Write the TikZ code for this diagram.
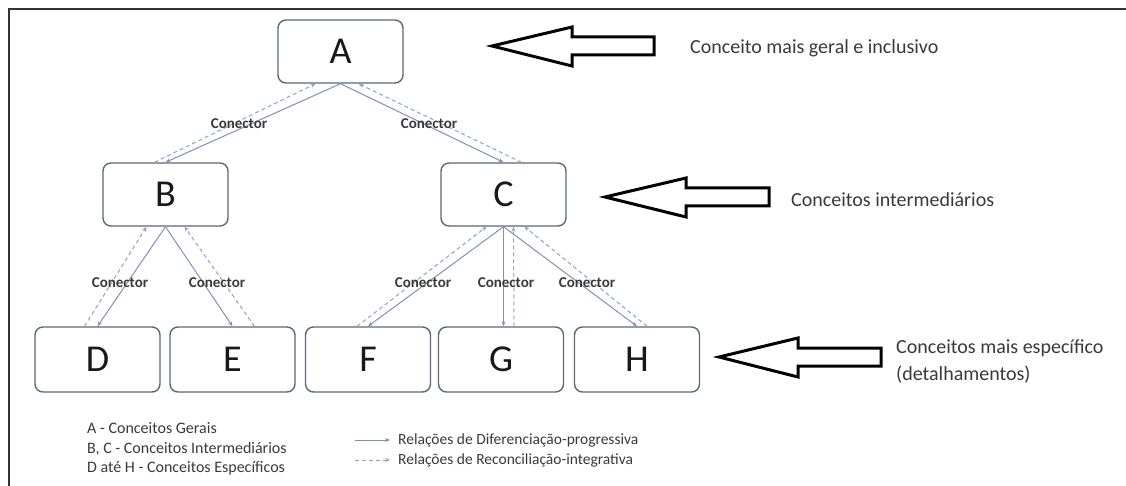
\documentclass[tikz,border=0pt]{standalone}
\usepackage{fontspec}
\setmainfont{Carlito}
\usetikzlibrary{arrows.meta,calc}
\definecolor{conn}{HTML}{7E93B3}
\definecolor{boxc}{HTML}{5E6874}
\definecolor{txt}{HTML}{3A3A3A}
\definecolor{framec}{HTML}{333333}
\begin{document}
\begin{tikzpicture}[x=1pt,y=-1pt,
  concept/.style={draw=boxc,line width=1.4pt,rounded corners=8pt,fill=white,minimum width=125pt,minimum height=64pt,inner sep=0pt,font=\fontsize{38}{40}\selectfont,text=black!90},
  diff/.style={draw=conn,line width=1pt,-{Stealth[length=5pt,width=4pt]}},
  recon/.style={draw=conn!85,line width=1pt,dash pattern=on 4pt off 3pt,-{Stealth[length=5pt,width=4pt]}},
  lab/.style={font=\bfseries\fontsize{15}{15}\selectfont,text=txt,inner sep=0pt},
  bigarrow/.style={draw=black,line width=3pt,fill=white,line join=miter},
  note/.style={font=\fontsize{20}{27}\selectfont,text=txt,anchor=west,align=left,inner sep=0pt},
  legend/.style={font=\fontsize{16}{19.5}\selectfont,text=txt,anchor=west,align=left,inner sep=0pt},
  legend2/.style={font=\fontsize{15.5}{19}\selectfont,text=txt,anchor=west,inner sep=0pt}
]
\useasboundingbox[fill=white] (0,0) rectangle (1126,486);
% frame
\draw[line width=2pt,framec] (9,486) -- (9,9) -- (1126,9);

% concept boxes
\node[concept,minimum height=63pt] (A) at (340.5,51.5) {A};
\node[concept,minimum height=63pt] (B) at (165.5,194.5) {B};
\node[concept,minimum height=63pt] (C) at (503.5,194.5) {C};
\node[concept,minimum height=65pt] (D) at (97.5,359.5) {D};
\node[concept,minimum height=65pt] (E) at (232.5,359.5) {E};
\node[concept,minimum height=65pt] (F) at (368,359.5) {F};
\node[concept,minimum height=65pt] (G) at (501,359.5) {G};
\node[concept,minimum height=65pt] (H) at (637,359.5) {H};

% connectors A
\draw[diff] (A.south) -- (B.north);
\draw[diff] (A.south) -- (C.north);
\draw[recon] ($(B.north)+(-11,0)$) -- ($(A.south)+(-25,0)$);
\draw[recon] ($(C.north)+(18,0)$) -- ($(A.south)+(18,0)$);
% connectors B
\draw[diff] (B.south) -- (D.north);
\draw[recon] ($(D.north)+(-13,0)$) -- ($(B.south)+(-19,0)$);
\draw[diff] (B.south) -- (E.north);
\draw[recon] ($(E.north)+(22,0)$) -- ($(B.south)+(19,0)$);
% connectors C
\draw[diff] (C.south) -- (F.north);
\draw[recon] ($(F.north)+(-11,0)$) -- ($(C.south)+(-17,0)$);
\draw[diff] (C.south) -- (C.south |- G.north);
\draw[recon] ($(G.north)+(13,0)$) -- ($(C.south)+(10,0)$);
\draw[diff] (C.south) -- (H.north);
\draw[recon] ($(H.north)+(10,0)$) -- ($(C.south)+(21,0)$);

% connector labels
\node[lab] (l1) at (239,124) {Conector};
\node[lab] (l2) at (429,124) {Conector};
\node[lab] (l3) at (120,283) {Conector};
\node[lab] (l4) at (217,283) {Conector};
\node[lab] (l5) at (423,283) {Conector};
\node[lab] (l6) at (506,283) {Conector};
\node[lab] (l7) at (587,283) {Conector};

% block arrows
\draw[bigarrow] (492,46) -- (572,27) -- (572,37) -- (654,37) -- (654,55) -- (572,55) -- (572,66) -- cycle;
\draw[bigarrow] (605,197) -- (686,178) -- (686,188) -- (769,188) -- (769,206) -- (686,206) -- (686,217) -- cycle;
\draw[bigarrow] (719,357) -- (798,338) -- (798,348) -- (881,348) -- (881,366) -- (798,366) -- (798,377) -- cycle;

\node[note] (n1) at (690,48) {Conceito mais geral e inclusivo};
\node[note] (n2) at (791,200) {Conceitos intermediários};
\node[note] (n3) at (896,361.5) {Conceitos mais específico\\(detalhamentos)};

% legends
\node[legend] (lg1) at (87,449) {A - Conceitos Gerais\\B, C - Conceitos Intermediários\\D até H - Conceitos Específicos};
\coordinate (s1) at (355,440);
\coordinate (e1) at (390,440);
\coordinate (s2) at (355,460);
\coordinate (e2) at (390,460);
\draw[diff] (s1) -- (e1);
\draw[recon] (s2) -- (e2);
\node[legend2] (lg2) at (398,440) {Relações de Diferenciação-progressiva};
\node[legend2] (lg3) at (398,460) {Relações de Reconciliação-integrativa};
\end{tikzpicture}
\end{document}
